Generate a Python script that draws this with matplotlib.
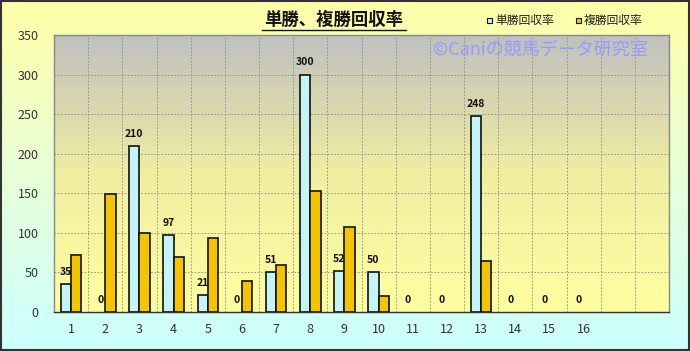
import numpy as np
import matplotlib
matplotlib.use("Agg")
import matplotlib.pyplot as plt
from matplotlib.colors import LinearSegmentedColormap
from matplotlib.patches import Rectangle

plt.rcParams['font.family'] = ['Noto Sans CJK JP', 'DejaVu Sans']

categories = ["1", "2", "3", "4", "5", "6", "7", "8", "9", "10", "11", "12", "13", "14", "15", "16", "", ""]
tansho = [35, 0, 210, 97, 21, 0, 51, 300, 52, 50, 0, 0, 248, 0, 0, 0]
fukusho = [72, 149, 100, 69, 93, 39, 59, 153, 107, 20, 0, 0, 64, 0, 0, 0]
series_names = ["単勝回収率", "複勝回収率"]
title = "単勝、複勝回収率"
watermark = "©Caniの競馬データ研究室"
yticks = [0, 50, 100, 150, 200, 250, 300, 350]

fig = plt.figure(figsize=(6.9, 3.51), dpi=100)

# figure background gradient (yellow top -> light cyan bottom)
bg = fig.add_axes([0, 0, 1, 1], zorder=-10)
bg_cmap = LinearSegmentedColormap.from_list("bg", ["#CCFFFF", "#E8FFD8", "#FFFFA8"])
grad = np.linspace(0, 1, 256).reshape(-1, 1)
bg.imshow(grad, aspect="auto", cmap=bg_cmap, origin="lower", extent=[0, 1, 0, 1])
bg.set_xlim(0, 1); bg.set_ylim(0, 1)
bg.axis("off")
bg.add_patch(Rectangle((0.001, 0.002), 0.997, 0.995, fill=False, edgecolor="#333333", lw=1.5, transform=bg.transAxes))

ax = fig.add_axes([54/690, 39/351, 615/690, 277/351])
pa_cmap = LinearSegmentedColormap.from_list("pa", ["#FFFFA0", "#F0EEA0", "#C0C0C0"])
ax.imshow(grad, aspect="auto", cmap=pa_cmap, origin="lower", extent=[0, 1, 0, 1],
          transform=ax.transAxes, zorder=0)

n = len(categories)
x = np.arange(len(tansho))
w = 0.3
ec_t = ["#111111" if v > 0 else "none" for v in tansho]
ec_f = ["#111111" if v > 0 else "none" for v in fukusho]
ax.bar(x - w/2, tansho, width=w, color="#C4F4F8", edgecolor=ec_t, linewidth=1.2, zorder=3)
ax.bar(x + w/2, fukusho, width=w, color="#F4C400", edgecolor=ec_f, linewidth=1.2, zorder=3)

for xi, v in zip(x, tansho):
    ax.text(xi - w/2, v + 9, str(v), ha="center", va="bottom", fontsize=7.5,
            fontweight="bold", color="#111111", zorder=4)

ax.set_xlim(-0.5, n - 0.5)
ax.set_ylim(0, 350)
ax.set_yticks(yticks)
ax.set_xticks(np.arange(n))
ax.set_xticklabels(categories)
ax.tick_params(axis="both", length=0, labelsize=9, colors="#333333")
ax.tick_params(axis="y", pad=11)
ax.tick_params(axis="x", pad=8)
for xb in np.arange(n + 1) - 0.5:
    ax.axvline(xb, color="#888888", ls=(0, (2, 2)), lw=0.6, zorder=1)
for yv in yticks:
    ax.axhline(yv, color="#888888", ls=(0, (2, 2)), lw=0.6, zorder=1)
for s in ax.spines.values():
    s.set_color("#888888")
    s.set_linewidth(1.0)
ax.spines["bottom"].set_color("#333333")
ax.set_axisbelow(False)

ax.text(0.965, 0.945, watermark, transform=ax.transAxes, ha="right", va="center",
        fontsize=13, color="#9999FF", zorder=5)

fig.text(334/690, 1 - 20/351, title, ha="center", va="center", fontsize=12.5,
         fontweight="bold", color="#111111")
fig.add_artist(plt.Line2D([262/690, 406/690], [1 - 30/351, 1 - 30/351], color="#111111", lw=1.0))

# legend
for xs, name, col in [(487, series_names[0], "#C4F4F8"), (576, series_names[1], "#F4C400")]:
    fig.patches.append(Rectangle((xs/690, 1 - 23/351), 5/690, 5/351, facecolor=col,
                                 edgecolor="#111111", lw=0.8, transform=fig.transFigure))
    fig.text((xs + 8)/690, 1 - 20/351, name, ha="left", va="center", fontsize=8.5, color="#222222")

fig.savefig("out.png", dpi=100)
